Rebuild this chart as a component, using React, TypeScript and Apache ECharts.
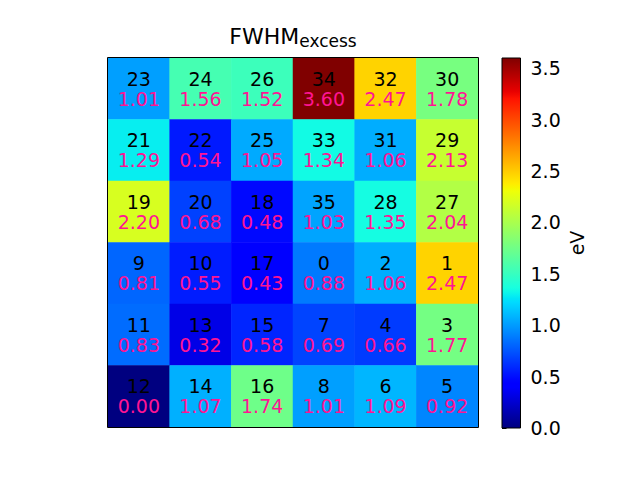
import React, { useEffect, useRef } from "react";
import * as echarts from "echarts";

const xCats = ["0", "1", "2", "3", "4", "5"];
const yCats = ["0", "1", "2", "3", "4", "5"];

// pixel ids per row, top row first
const pixelIds = [
  [23, 24, 26, 34, 32, 30],
  [21, 22, 25, 33, 31, 29],
  [19, 20, 18, 35, 28, 27],
  [9, 10, 17, 0, 2, 1],
  [11, 13, 15, 7, 4, 3],
  [12, 14, 16, 8, 6, 5],
];

// FWHM excess values (eV), top row first
const fwhmValues = [
  [1.01, 1.56, 1.52, 3.6, 2.47, 1.78],
  [1.29, 0.54, 1.05, 1.34, 1.06, 2.13],
  [2.2, 0.68, 0.48, 1.03, 1.35, 2.04],
  [0.81, 0.55, 0.43, 0.88, 1.06, 2.47],
  [0.83, 0.32, 0.58, 0.69, 0.66, 1.77],
  [0.0, 1.07, 1.74, 1.01, 1.09, 0.92],
];

const cbarTicks = [0, 0.5, 1, 1.5, 2, 2.5, 3, 3.5];
const vMin = 0;
const vMax = 3.6;

function interp(x: number, pts: number[][]): number {
  for (let i = 1; i < pts.length; i++) {
    if (x <= pts[i][0]) {
      const [x0, y0] = pts[i - 1];
      const [x1, y1] = pts[i];
      return y0 + ((x - x0) / (x1 - x0)) * (y1 - y0);
    }
  }
  return pts[pts.length - 1][1];
}
const R = [[0, 0], [0.35, 0], [0.66, 1], [0.89, 1], [1, 0.5]];
const G = [[0, 0], [0.125, 0], [0.375, 1], [0.64, 1], [0.91, 0], [1, 0]];
const B = [[0, 0.5], [0.11, 1], [0.34, 1], [0.65, 0], [1, 0]];
function jet(t: number): string {
  const r = Math.round(interp(t, R) * 255);
  const g = Math.round(interp(t, G) * 255);
  const b = Math.round(interp(t, B) * 255);
  return `rgb(${r},${g},${b})`;
}
const jetColors: string[] = [];
for (let i = 0; i <= 100; i++) jetColors.push(jet(i / 100));

const FONT = "DejaVu Sans";

export default function App() {
  const ref = useRef<HTMLDivElement>(null);
  useEffect(() => {
    if (!ref.current) return;
    const chart = echarts.init(ref.current, null, { renderer: "svg" });
    const data: any[] = [];
    for (let r = 0; r < 6; r++) {
      for (let c = 0; c < 6; c++) {
        data.push([c, r, fwhmValues[r][c], pixelIds[r][c]]);
      }
    }
    const gridL = 108, gridT = 58, gridW = 370, gridH = 369;
    const cbL = 502, cbT = 58, cbW = 18.5, cbH = 370;
    chart.setOption({
      animation: false,
      textStyle: { fontFamily: FONT },
      grid: [
        { left: gridL, top: gridT, width: gridW, height: gridH },
        { left: cbL, top: cbT, width: cbW, height: cbH },
      ],
      xAxis: [
        { type: "category", data: xCats, gridIndex: 0, show: false },
        { type: "value", gridIndex: 1, show: false, min: 0, max: 1 },
      ],
      yAxis: [
        { type: "category", data: yCats, gridIndex: 0, show: false, inverse: true },
        {
          type: "value",
          gridIndex: 1,
          min: vMin,
          max: vMax,
          position: "right",
          splitLine: { show: false },
          axisLine: { show: false },
          axisTick: {
            show: true,
            length: 4.5,
            lineStyle: { color: "#000" },
            customValues: cbarTicks,
          },
          axisLabel: {
            customValues: cbarTicks,
            formatter: (v: number) => v.toFixed(1),
            color: "#000",
            fontSize: 19,
            fontFamily: FONT,
            margin: 10,
          },
          name: "eV",
          nameLocation: "middle",
          nameGap: 47,
          nameTextStyle: { color: "#000", fontSize: 19, fontFamily: FONT },
        },
      ],
      visualMap: {
        type: "continuous",
        show: false,
        min: vMin,
        max: vMax,
        seriesIndex: 0,
        dimension: 2,
        inRange: { color: jetColors },
      },
      series: [
        {
          type: "heatmap",
          xAxisIndex: 0,
          yAxisIndex: 0,
          data,
          itemStyle: { borderWidth: 0 },
          emphasis: { disabled: true },
          label: {
            show: true,
            formatter: (p: any) => `{a|${p.data[3]}}\n{b|${p.data[2].toFixed(2)}}`,
            rich: {
              a: { color: "#000", fontSize: 19, lineHeight: 20, fontFamily: FONT },
              b: { color: "#ff1493", fontSize: 19, lineHeight: 20, fontFamily: FONT },
            },
          },
        },
      ],
      graphic: [
        {
          type: "rect",
          z: 100,
          shape: { x: gridL - 0.5, y: gridT - 0.5, width: gridW + 1, height: gridH + 1 },
          style: { fill: "none", stroke: "#000", lineWidth: 1 },
          silent: true,
        },
        {
          type: "rect",
          z: 99,
          shape: { x: cbL, y: cbT, width: cbW, height: cbH },
          style: {
            fill: new echarts.graphic.LinearGradient(
              0,
              0,
              0,
              1,
              jetColors.map((c, i) => ({ offset: i / 100, color: jetColors[100 - i] }))
            ),
            stroke: "#000",
            lineWidth: 1,
          },
          silent: true,
        },
        {
          type: "text",
          z: 100,
          x: gridL + gridW / 2,
          y: 49,
          style: {
            text: "{a|FWHM}{b|excess}",
            align: "center",
            verticalAlign: "bottom",
            rich: {
              a: { fontSize: 22, lineHeight: 25, fontFamily: FONT, fill: "#000" },
              b: { fontSize: 17, lineHeight: 13, verticalAlign: "bottom", fontFamily: FONT, fill: "#000" },
            },
          },
          silent: true,
        },
      ],
    });
    return () => chart.dispose();
  }, []);
  return (
    <div
      ref={ref}
      style={{ position: "absolute", left: 0, top: 0, width: 640, height: 480 }}
    />
  );
}
